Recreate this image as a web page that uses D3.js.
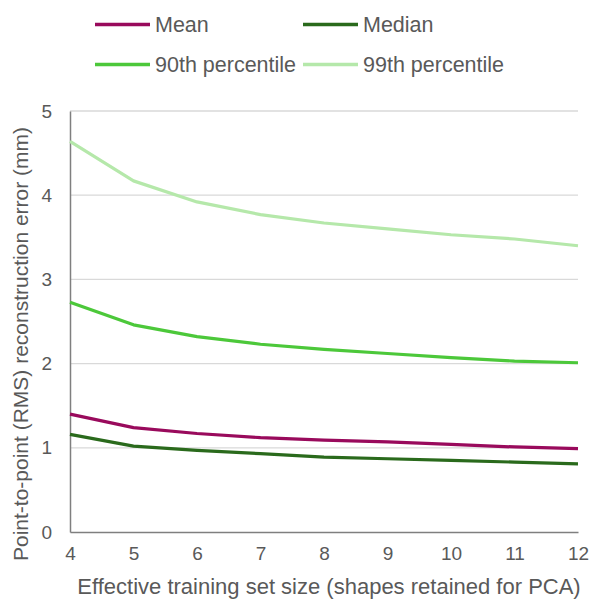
<!DOCTYPE html>
<html><head><meta charset="utf-8">
<script src="https://cdn.jsdelivr.net/npm/d3@7"></script>
<style>body{margin:0;background:#fff}text{font-family:"Liberation Sans",Arial,sans-serif;fill:#595959}</style>
</head><body><svg id="c" width="592" height="601"></svg>
<script>
const sizes = [4,5,6,7,8,9,10,11,12];
const meanVals = [1.40,1.24,1.17,1.12,1.09,1.07,1.04,1.01,0.99];
const medianVals = [1.16,1.02,0.97,0.93,0.89,0.87,0.85,0.83,0.81];
const p90Vals = [2.73,2.46,2.32,2.23,2.17,2.12,2.07,2.03,2.01];
const p99Vals = [4.64,4.17,3.92,3.77,3.67,3.60,3.53,3.48,3.40];
const seriesNames = ["Mean","Median","90th percentile","99th percentile"];
const seriesColors = ["#990a5c","#2a6a1c","#4cc83a","#b5e8aa"];
const yTicks = [0,1,2,3,4,5];
const xLabel = "Effective training set size (shapes retained for PCA)";
const yLabel = "Point-to-point (RMS) reconstruction error (mm)";

const series = [meanVals, medianVals, p90Vals, p99Vals];
const svg = d3.select("#c");
const m = {l:70, r:14, t:111, b:69};
const W = 592, H = 601;
const x = d3.scaleLinear().domain([4,12]).range([m.l, W-m.r]);
const y = d3.scaleLinear().domain([0,5]).range([H-m.b, m.t]);

// gridlines
svg.append("g").selectAll("line").data(yTicks.slice(1)).join("line")
  .attr("x1", m.l).attr("x2", W-m.r).attr("y1", d=>y(d)).attr("y2", d=>y(d))
  .attr("stroke","#d9d9d9").attr("stroke-width",1.3);

// axes
const xa = svg.append("g").attr("transform",`translate(0,${y(0)})`)
  .call(d3.axisBottom(x).tickValues(sizes).tickFormat(d3.format("d")).tickSize(0).tickPadding(15));
xa.select(".domain").attr("stroke","#7f7f7f").attr("stroke-width",1.5);
xa.selectAll("text").attr("font-size",19).style("fill","#595959");
const ya = svg.append("g").attr("transform",`translate(${m.l},0)`)
  .call(d3.axisLeft(y).tickValues(yTicks).tickFormat(d3.format("d")).tickSize(0).tickPadding(18));
ya.select(".domain").attr("stroke","#7f7f7f").attr("stroke-width",1.5);
ya.selectAll("text").attr("font-size",19).style("fill","#595959");

// lines
const line = d3.line().x((d,i)=>x(sizes[i])).y(d=>y(d));
const order = [3,2,0,1];
svg.append("g").selectAll("path").data(order).join("path")
  .attr("d", i=>line(series[i])).attr("fill","none")
  .attr("stroke", i=>seriesColors[i]).attr("stroke-width",3.2)
  .attr("stroke-linejoin","round");

// axis titles
svg.append("text").attr("x",329).attr("y",594).attr("text-anchor","middle")
  .attr("font-size",22).text(xLabel);
svg.append("text").attr("transform",`translate(28,344) rotate(-90)`)
  .attr("text-anchor","middle").attr("font-size",21).text(yLabel);

// legend
const legPos = [[95,24.5],[303,24.5],[95,64.5],[303,64.5]];
const lg = svg.append("g");
seriesNames.forEach((n,i)=>{
  const [lx,ly] = legPos[i];
  lg.append("line").attr("x1",lx).attr("x2",lx+55).attr("y1",ly).attr("y2",ly)
    .attr("stroke",seriesColors[i]).attr("stroke-width",3.5);
  lg.append("text").attr("x",lx+60).attr("y",ly+7.5).attr("font-size",21.5).text(n);
});
</script></body></html>
